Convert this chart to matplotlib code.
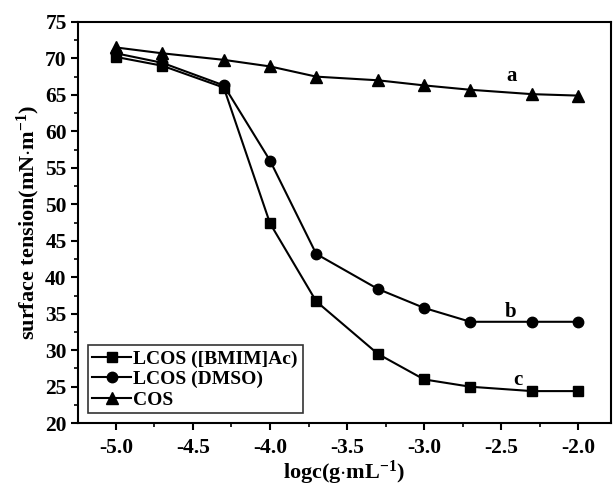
import matplotlib
matplotlib.use("Agg")
import matplotlib.pyplot as plt
from matplotlib.ticker import MultipleLocator, FormatStrFormatter

plt.rcParams['font.family'] = ['Liberation Serif', 'DejaVu Serif']
plt.rcParams['font.weight'] = 'bold'
plt.rcParams['mathtext.fontset'] = 'custom'
plt.rcParams['mathtext.rm'] = 'Liberation Serif:bold'
plt.rcParams['mathtext.bf'] = 'Liberation Serif:bold'
plt.rcParams['mathtext.default'] = 'rm'

# log concentration (g/mL)
logc = [-5.0, -4.7, -4.3, -4.0, -3.7, -3.3, -3.0, -2.7, -2.3, -2.0]

# surface tension, mN/m
lcos_bmim = [70.2, 69.0, 66.0, 47.4, 36.7, 29.5, 26.0, 25.0, 24.4, 24.4]
lcos_dmso = [70.7, 69.4, 66.3, 56.0, 43.2, 38.4, 35.8, 33.9, 33.9, 33.9]
cos_vals = [71.5, 70.7, 69.8, 68.9, 67.5, 67.0, 66.3, 65.7, 65.1, 64.9]

series_labels = ['LCOS ([BMIM]Ac)', 'LCOS (DMSO)', 'COS']

fig = plt.figure(figsize=(6.13, 4.87), dpi=100)
ax = fig.add_axes([0.127, 0.131, 0.870, 0.824])

ax.plot(logc, lcos_bmim, 'k-s', lw=1.5, ms=7, label=series_labels[0])
ax.plot(logc, lcos_dmso, 'k-o', lw=1.5, ms=7.5, label=series_labels[1])
ax.plot(logc, cos_vals, 'k-^', lw=1.5, ms=8, label=series_labels[2])

ax.text(-2.43, 67.6, 'a', fontsize=15, fontweight='bold', ha='center', va='center')
ax.text(-2.44, 35.3, 'b', fontsize=15, fontweight='bold', ha='center', va='center')
ax.text(-2.39, 25.9, 'c', fontsize=15, fontweight='bold', ha='center', va='center')

ax.set_xlim(-5.247, -1.786)
ax.set_ylim(20, 75)
ax.xaxis.set_major_locator(MultipleLocator(0.5))
ax.xaxis.set_minor_locator(MultipleLocator(0.25))
ax.yaxis.set_major_locator(MultipleLocator(5))
ax.yaxis.set_minor_locator(MultipleLocator(2.5))
ax.xaxis.set_major_formatter(FormatStrFormatter('%.1f'))
ax.tick_params(which='major', direction='out', length=5, width=1.5, labelsize=15.5)
ax.tick_params(which='minor', direction='out', length=3, width=1.2)
ax.tick_params(axis='x', pad=6)
ax.tick_params(axis='y', pad=3)
for s in ax.spines.values():
    s.set_linewidth(1.5)

ax.set_xlabel(r'logc(g$\cdot$mL$^{-1}$)', fontsize=16, fontweight='bold', labelpad=0)
ax.set_ylabel(r'surface tension(mN$\cdot$m$^{-1}$)', fontsize=16, fontweight='bold', labelpad=2)

leg = ax.legend(loc='lower left', fontsize=14, frameon=True, fancybox=False,
                edgecolor='black', handlelength=2.0, handletextpad=0.1,
                borderpad=0.25, labelspacing=0.15, borderaxespad=0.5)
leg.get_frame().set_linewidth(1.2)

fig.savefig('out.png', dpi=100)
